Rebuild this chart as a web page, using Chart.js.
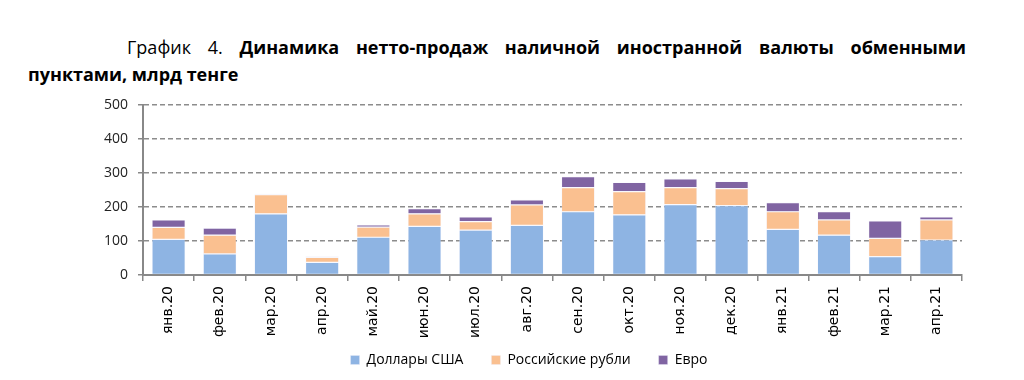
<!DOCTYPE html>
<html><head><meta charset="utf-8">
<script src="https://cdn.jsdelivr.net/npm/chart.js@4"></script>
<style>
html,body{margin:0;padding:0;background:#fff;width:1024px;height:380px;overflow:hidden;}
#title{position:absolute;left:28px;top:34px;width:938px;font-family:"Open Sans","Noto Sans",sans-serif;font-size:18px;line-height:27px;color:#000;text-align:justify;text-indent:99px;}
#title b{font-weight:bold;}
#wrap{position:absolute;left:0;top:0;width:1024px;height:380px;}
</style></head>
<body>
<div id="title">График 4. <b>Динамика нетто-продаж наличной иностранной валюты обменными пунктами, млрд тенге</b></div>
<div id="wrap"><canvas id="c" width="1024" height="380"></canvas></div>
<script>
const categories = ["янв.20","фев.20","мар.20","апр.20","май.20","июн.20","июл.20","авг.20","сен.20","окт.20","ноя.20","дек.20","янв.21","фев.21","мар.21","апр.21"];
const usd = [105,62,180,37,111,143,132,146,186,177,207,204,134,117,54,103];
const rub = [35,55,56,15,30,37,25,60,71,68,50,50,52,45,54,59];
const eur = [22,21,3,3,6,15,14,15,32,27,26,21,27,24,51,9];
const seriesNames = ["Доллары США","Российские рубли","Евро"];
const yTicks = [0,100,200,300,400,500];

const mk = (label, data, color) => ({label, data, backgroundColor: color, borderColor: 'rgba(235,235,250,0.6)', borderWidth: 0.6, borderSkipped: false, barPercentage: 0.65, categoryPercentage: 1});

new Chart(document.getElementById('c'), {
  type: 'bar',
  data: {
    labels: categories,
    datasets: [
      mk(seriesNames[0], usd, '#8EB4E3'),
      mk(seriesNames[1], rub, '#FAC090'),
      mk(seriesNames[2], eur, '#8064A2')
    ]
  },
  options: {
    responsive: false,
    animation: false,
    layout: {padding: {top: 105, right: 62, left: 0, bottom: 1}},
    plugins: {
      title: {display: false},
      tooltip: {enabled: false},
      legend: {
        position: 'bottom',
        labels: {boxWidth: 9, boxHeight: 9, padding: 28, color: '#000', font: {family: '"Open Sans","Noto Sans",sans-serif', size: 14}}
      }
    },
    scales: {
      x: {
        stacked: true,
        grid: {offset: true, drawOnChartArea: false, drawTicks: true, tickLength: 6, color: '#888', lineWidth: 1.5},
        border: {display: true, color: '#888', width: 2},
        ticks: {minRotation: 90, maxRotation: 90, color: '#000', padding: 5, font: {family: '"DejaVu Sans",sans-serif', size: 14}},
        afterFit: s => { s.height = 70; }
      },
      y: {
        stacked: true,
        min: 0, max: 500,
        afterBuildTicks: s => { s.ticks = yTicks.map(v => ({value: v})); },
        grid: {color: '#8c8c8c', lineWidth: 1.5, tickLength: 5, tickColor: '#888', tickBorderDash: [], tickWidth: 1.5},
        border: {display: true, color: '#888', width: 2, dash: [5,3]},
        ticks: {color: '#222', padding: 10, font: {family: '"Open Sans","Noto Sans",sans-serif', size: 14}},
        afterFit: s => { s.width = 143; }
      }
    }
  },
  plugins: [{
    id: 'legendFix',
    afterInit(chart) {
      const lg = chart.legend;
      if (lg && !lg._fitPatched) {
        const orig = lg.fit.bind(lg);
        lg.fit = function() { orig(); this.height = 34; };
        lg._fitPatched = true;
      }
    },
    afterLayout(chart) {
      const lg = chart.legend;
      if (lg) {
        lg.left += 48; lg.right += 48;
        lg.top = 325; lg.bottom = lg.top + 54;
      }
    }
  }]
});
</script>
</body></html>
